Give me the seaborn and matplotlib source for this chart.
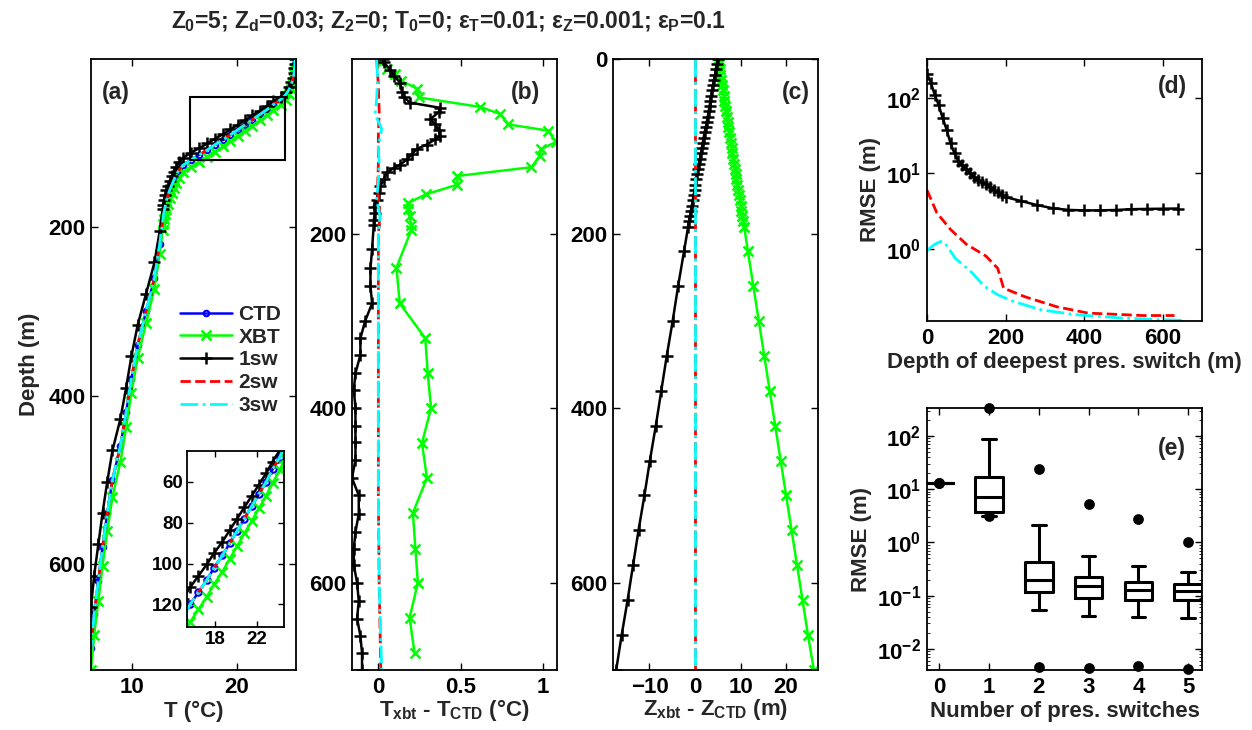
import numpy as np
import pandas as pd
import matplotlib
matplotlib.use("Agg")
import matplotlib.pyplot as plt
from matplotlib.patches import Rectangle
from matplotlib.ticker import FixedLocator, NullLocator, LogLocator, FuncFormatter
import seaborn as sns

# ------------------------------------------------------------------ data
# true (CTD) depth grid of the XBT samples (m)
depth_grid = [0, 6, 12, 18, 24, 30, 36, 42, 48, 54, 60, 66, 72, 78, 84, 90, 96, 102, 108,
              114, 120, 126, 132, 138, 144, 150, 156, 162, 168, 174, 180, 186, 192,
              220, 260, 300, 340, 380, 420, 460, 500, 540, 580, 620, 660, 700]
# CTD temperature (degC)
T_ctd = [25.6, 25.55, 25.5, 25.45, 25.35, 25.2, 25.0, 24.7, 24.2, 23.5, 22.9, 22.2, 21.5,
         20.8, 20.1, 19.4, 18.7, 17.9, 17.2, 16.4, 15.6, 14.9, 14.5, 14.2, 14.0, 13.8, 13.6,
         13.45, 13.3, 13.2, 13.1, 13.0, 12.95,
         12.65, 12.15, 11.35, 10.55, 9.95, 9.45, 8.9, 8.15, 7.65, 7.2, 6.8, 6.4, 6.1]
# XBT depth error Z_xbt - Z_CTD (m), panel (c)
dz_xbt = [5.0, 5.2, 5.4, 5.5, 5.7, 5.9, 6.1, 6.3, 6.4, 6.6, 6.8, 7.0, 7.2, 7.3, 7.5, 7.7,
          7.9, 8.1, 8.2, 8.4, 8.6, 8.8, 9.0, 9.1, 9.3, 9.5, 9.7, 9.9, 10.0, 10.2, 10.4, 10.6,
          10.8, 11.6, 12.8, 14.0, 15.2, 16.4, 17.6, 18.8, 20.0, 21.2, 22.4, 23.6, 24.8, 26.1]
# 1-switch corrected depth error (m), panel (c)
dz_1sw = [5.0, 4.8, 4.6, 4.4, 4.2, 4.0, 3.8, 3.6, 3.4, 3.2, 3.0, 2.8, 2.6, 2.4, 2.1, 1.9,
          1.7, 1.5, 1.3, 1.1, 0.9, 0.7, 0.5, 0.3, 0.1, -0.1, -0.3, -0.5, -0.7, -0.9, -1.1,
          -1.3, -1.5, -2.4, -3.7, -4.9, -6.2, -7.4, -8.6, -9.9, -11.1, -12.4, -13.6, -14.8,
          -16.1, -17.3]
# 1-switch profile depth in panel (a) (m)
depth_1sw_a = [0, 5.6, 11.2, 16.7, 22.3, 27.9, 33.5, 39.1, 44.6, 50.2, 55.8, 61.4, 67.0,
               72.5, 78.1, 83.7, 89.3, 94.9, 100.4, 106.0, 111.6, 117.2, 122.8, 128.3,
               133.9, 139.5, 145.1, 150.7, 156.2, 161.8, 167.4, 173.0, 178.6, 204.6, 241.8,
               279.0, 316.2, 353.4, 390.6, 427.8, 465.0, 502.2, 539.4, 576.6, 613.8, 651.0]
# panel (a) zoom box
zoom_T = [15.5, 24.6]
zoom_z = [45, 120]

# panel (b): T_xbt - T_CTD
depth_b_xbt = [4, 11, 17, 25, 34, 44, 55, 63, 75, 82, 95, 103, 111, 124, 134, 144, 155,
               165, 172, 180, 190, 196, 239, 280, 320, 360, 400, 440, 480, 520, 561, 600,
               640, 681]
dT_b_xbt = [0.02, 0.05, 0.10, 0.14, 0.235, 0.245, 0.62, 0.74, 0.79, 1.03, 1.08, 0.99, 0.98,
            0.93, 0.48, 0.48, 0.29, 0.18, 0.18, 0.19, 0.20, 0.20, 0.11, 0.13, 0.285, 0.30,
            0.32, 0.265, 0.295, 0.21, 0.225, 0.24, 0.19, 0.22]
depth_b_1sw = [0, 4, 13, 19, 27, 38, 44, 50, 56, 61, 69, 75, 81, 88, 92, 98, 103, 109, 115,
               121, 125, 130, 138, 146, 153, 161, 169, 176, 184, 190, 218, 240, 260, 280,
               300, 320, 339, 360, 379, 400, 420, 439, 459, 480, 500, 521, 542, 561, 580,
               600, 621, 641, 661, 681, 700]
dT_b_1sw = [0.03, 0.036, 0.073, 0.093, 0.133, 0.143, 0.154, 0.194, 0.376, 0.366, 0.315,
            0.345, 0.366, 0.376, 0.345, 0.295, 0.234, 0.204, 0.174, 0.133, 0.093, 0.053,
            0.032, 0.012, 0.002, -0.008, -0.028, -0.018, -0.028, -0.028, -0.038, -0.048,
            -0.048, -0.038, -0.08, -0.109, -0.109, -0.139, -0.149, -0.139, -0.139, -0.139,
            -0.139, -0.16, -0.119, -0.119, -0.139, -0.149, -0.149, -0.129, -0.119, -0.129,
            -0.109, -0.099, -0.099]
depth_b_2sw = [0, 30, 60, 90, 120, 150, 180, 200, 300, 400, 500, 600, 700]
dT_b_2sw = [-0.01, 0.0, 0.005, 0.0, 0.0, -0.005, 0.01, 0.0, 0.0, 0.0, 0.0, 0.005, 0.015]
depth_b_3sw = [0, 20, 45, 63, 80, 100, 120, 140, 160, 180, 200, 300, 400, 500, 600, 700]
dT_b_3sw = [-0.01, -0.005, -0.01, -0.02, 0.02, 0.0, 0.005, 0.0, -0.01, 0.01, 0.0, 0.0, 0.0,
            0.0, 0.005, 0.02]

# panel (c): 2sw / 3sw depth errors
depth_c_flat = [0, 700]
dz_2sw = [0.0, 0.0]
dz_3sw = [0.0, 0.0]

# panel (d): RMSE vs depth of deepest switch
sw_depth_1 = [0, 10, 20, 30, 40, 50, 60, 70, 80, 90, 100, 110, 120, 130, 140, 150, 160,
              170, 180, 190, 200, 240, 280, 320, 360, 400, 440, 480, 520, 560, 600, 640]
rmse_1sw = [210, 158, 110, 80, 54, 38, 25, 18.5, 14.6, 12.8, 11.3, 10.0, 9.0, 8.3, 7.7, 7.2,
            6.7, 6.1, 5.6, 5.2, 4.85, 4.3, 3.8, 3.45, 3.28, 3.23, 3.23, 3.27, 3.35, 3.38,
            3.4, 3.42]
sw_depth_2 = [0, 25, 60, 100, 150, 180, 195, 250, 330, 410, 550, 630]
rmse_2sw = [6.0, 3.0, 1.8, 1.15, 0.8, 0.55, 0.3, 0.23, 0.17, 0.14, 0.13, 0.13]
sw_depth_3 = [0, 20, 35, 45, 72, 115, 145, 180, 220, 290, 375, 500, 580, 660]
rmse_3sw = [0.95, 1.15, 1.25, 1.2, 0.75, 0.48, 0.32, 0.245, 0.2, 0.155, 0.134, 0.12, 0.115,
            0.112]

# panel (e): box statistics per number of switches
n_switch = [0, 1, 2, 3, 4, 5]
box_low = [13.3, 3.16, 0.053, 0.042, 0.040, 0.038]
box_q1 = [13.3, 3.65, 0.115, 0.090, 0.084, 0.084]
box_med = [13.3, 7.0, 0.194, 0.154, 0.13, 0.124]
box_q3 = [13.3, 16.6, 0.42, 0.22, 0.18, 0.166]
box_high = [13.3, 87, 2.15, 0.56, 0.355, 0.274]
rmse_min = [13.3, 3.1, 0.0046, 0.0044, 0.0047, 0.0042]
rmse_max = [13.3, 330, 23.7, 5.3, 2.74, 1.0]

# ------------------------------------------------------------------ style
sns.set_style("ticks")
plt.rcParams.update({
    "font.family": ["Liberation Sans", "DejaVu Sans"],
    "font.weight": "bold",
    "axes.labelweight": "bold",
    "font.size": 16,
    "mathtext.fontset": "custom",
    "mathtext.rm": "Liberation Sans:bold",
    "mathtext.it": "Liberation Sans:bold",
    "mathtext.bf": "Liberation Sans:bold",
    "mathtext.sf": "Liberation Sans:bold",
    "axes.linewidth": 1.3,
    "axes.edgecolor": "black",
    "xtick.direction": "in", "ytick.direction": "in",
    "xtick.top": True, "ytick.right": True,
    "xtick.major.size": 5, "ytick.major.size": 5,
    "xtick.minor.size": 2.5, "ytick.minor.size": 2.5,
    "xtick.major.width": 1.0, "ytick.major.width": 1.0,
    "xtick.color": "black", "ytick.color": "black",
    "xtick.labelsize": 16, "ytick.labelsize": 16,
    "axes.labelsize": 16,
    "xtick.major.pad": 5, "ytick.major.pad": 4,
})

W, H = 1252, 730
fig = plt.figure(figsize=(W / 100, H / 100), dpi=100)


def add_ax(l, t, r, b):
    return fig.add_axes([l / W, 1 - b / H, (r - l) / W, (b - t) / H])


axa = add_ax(91, 59, 296, 670)
axb = add_ax(352, 59, 557, 670)
axc = add_ax(613, 59, 818, 670)
axd = add_ax(927, 59, 1202, 321)
axe = add_ax(927, 408, 1202, 670)

LW = 1.8
BLUE, GREEN, BLACK, RED, CYAN = "#0000ff", "#00ff00", "#000000", "#ff0000", "#00ffff"
MS_X, MS_P = 6.5, 8


def line(ax, x, y, **kw):
    sns.lineplot(x=x, y=y, ax=ax, sort=False, estimator=None, legend=False, **kw)


depth_xbt_a = [z + d for z, d in zip(depth_grid, dz_xbt)]


def draw_profiles(ax, ms_scale=1.0, labels=False):
    lab = (lambda s: s) if labels else (lambda s: None)
    line(ax, T_ctd, depth_grid, color=BLUE, lw=LW, marker="o", ms=4 * ms_scale,
         mfc="none", mec=BLUE, mew=1.5, label=lab("CTD"))
    line(ax, T_ctd, depth_xbt_a, color=GREEN, lw=LW, marker="x", ms=MS_X * ms_scale,
         mec=GREEN, mew=1.8, label=lab("XBT"))
    line(ax, T_ctd, depth_1sw_a, color=BLACK, lw=LW, marker="+", ms=MS_P * ms_scale,
         mec=BLACK, mew=1.8, label=lab("1sw"))
    line(ax, T_ctd, depth_grid, color=RED, lw=LW + 0.2, linestyle="--", label=lab("2sw"))
    line(ax, T_ctd, depth_grid, color=CYAN, lw=LW + 0.2, linestyle="-.", label=lab("3sw"))


# ---------------- panel (a)
draw_profiles(axa, labels=True)
axa.add_patch(Rectangle((zoom_T[0], zoom_z[0]), zoom_T[1] - zoom_T[0], zoom_z[1] - zoom_z[0],
                        fill=False, ec="black", lw=1.5, zorder=5))
axa.set_xlim(6.1, 25.65)
axa.set_ylim(726, 0)
axa.xaxis.set_major_locator(FixedLocator([10, 20]))
axa.yaxis.set_major_locator(FixedLocator([200, 400, 600]))
axa.set_xlabel("T (°C)", labelpad=2)
axa.set_ylabel("Depth (m)", labelpad=6)
handles, labels = axa.get_legend_handles_labels()
leg = axa.legend(handles, labels, loc="upper left",
                 bbox_to_anchor=((180 - 91) / 205, (670 - 305) / 611),
                 frameon=False, fontsize=15, handlelength=2.5, handletextpad=0.3,
                 labelspacing=0.18, borderpad=0, borderaxespad=0)

# inset
axi = add_ax(187, 451, 284, 627)
axi.set_zorder(10)
axi.set_facecolor("white")
draw_profiles(axi, ms_scale=1.15)
axi.set_xlim(15.3, 24.6)
axi.set_ylim(131, 45)
axi.xaxis.set_major_locator(FixedLocator([18, 22]))
axi.yaxis.set_major_locator(FixedLocator([60, 80, 100, 120]))
axi.tick_params(labelsize=13.5, length=4, pad=3)

# ---------------- panel (b)
line(axb, dT_b_xbt, depth_b_xbt, color=GREEN, lw=LW, marker="x", ms=MS_X, mec=GREEN, mew=1.8)
line(axb, dT_b_1sw, depth_b_1sw, color=BLACK, lw=LW, marker="+", ms=MS_P, mec=BLACK, mew=1.8)
line(axb, dT_b_2sw, depth_b_2sw, color=RED, lw=LW + 0.2, linestyle="--")
line(axb, dT_b_3sw, depth_b_3sw, color=CYAN, lw=LW + 0.2, linestyle="-.")
axb.set_xlim(-0.16, 1.085)
axb.set_ylim(700, 0)
axb.xaxis.set_major_locator(FixedLocator([0, 0.5, 1]))
axb.set_xticklabels(["0", "0.5", "1"])
axb.yaxis.set_major_locator(FixedLocator([200, 400, 600]))
axb.set_xlabel(r"$T_{xbt}$ - $T_{CTD}$ (°C)", labelpad=-1)

# ---------------- panel (c)
line(axc, dz_xbt, depth_grid, color=GREEN, lw=LW, marker="x", ms=MS_X, mec=GREEN, mew=1.8)
line(axc, dz_1sw, depth_grid, color=BLACK, lw=LW, marker="+", ms=MS_P, mec=BLACK, mew=1.8)
line(axc, dz_2sw, depth_c_flat, color=RED, lw=LW + 0.2, linestyle="--")
line(axc, dz_3sw, depth_c_flat, color=CYAN, lw=LW + 0.2, linestyle="-.")
axc.set_xlim(-18, 27)
axc.set_ylim(700, 0)
axc.xaxis.set_major_locator(FixedLocator([-10, 0, 10, 20]))
axc.yaxis.set_major_locator(FixedLocator([0, 200, 400, 600]))
axc.set_xlabel(r"$Z_{xbt}$ - $Z_{CTD}$ (m)", labelpad=-1)

# ---------------- panel (d)
line(axd, sw_depth_1, rmse_1sw, color=BLACK, lw=LW, marker="+", ms=MS_P + 1, mec=BLACK, mew=1.8)
line(axd, sw_depth_2, rmse_2sw, color=RED, lw=LW + 0.2, linestyle="--")
line(axd, sw_depth_3, rmse_3sw, color=CYAN, lw=LW + 0.2, linestyle="-.")
axd.set_yscale("log")
axd.set_xlim(0, 700)
axd.set_ylim(0.11, 330)
axd.xaxis.set_major_locator(FixedLocator([0, 200, 400, 600]))
axd.yaxis.set_major_locator(FixedLocator([1, 10, 100]))
axd.yaxis.set_minor_locator(NullLocator())
pow_fmt = FuncFormatter(lambda v, p: r"$10^{%d}$" % int(round(np.log10(v))))
axd.yaxis.set_major_formatter(pow_fmt)
axd.set_xlabel("Depth of deepest pres. switch (m)", labelpad=2)
axd.set_ylabel("RMSE (m)", labelpad=4)

# ---------------- panel (e)
rows = []
for i, n in enumerate(n_switch):
    for v in (box_low[i], box_q1[i], box_med[i], box_q3[i], box_high[i]):
        rows.append({"n": n, "rmse": v})
df_box = pd.DataFrame(rows)
sns.boxplot(data=df_box, x="n", y="rmse", ax=axe, log_scale=True, whis=(0, 100),
            fill=False, color="black", linecolor="black", linewidth=2.2, width=0.55,
            showfliers=False)
sns.scatterplot(x=n_switch + n_switch, y=rmse_min + rmse_max, ax=axe, color="black",
                s=60, edgecolor="black", linewidth=0, legend=False, zorder=5, clip_on=False)
axe.set_xlim(-0.25, 5.28)
axe.set_ylim(0.004, 335)
axe.yaxis.set_major_locator(FixedLocator([0.01, 0.1, 1, 10, 100]))
axe.yaxis.set_minor_locator(LogLocator(base=10, subs=np.arange(2, 10) * 1.0, numticks=20))
axe.yaxis.set_major_formatter(pow_fmt)
axe.xaxis.set_major_locator(FixedLocator(n_switch))
axe.set_xticklabels([str(n) for n in n_switch])
axe.set_xlabel("Number of pres. switches", labelpad=2)
axe.set_ylabel("RMSE (m)", labelpad=4)

for ax in (axa, axb, axc, axd, axe, axi):
    for s in ax.spines.values():
        s.set_visible(True)
        s.set_color("black")
        s.set_linewidth(1.3)
    ax.tick_params(which="both", top=True, right=True, direction="in")

# panel tags
for txt, (px, py) in {"(a)": (116, 93), "(b)": (526, 93), "(c)": (796, 93),
                      "(d)": (1172, 87), "(e)": (1172, 449)}.items():
    fig.text(px / W, 1 - py / H, txt, ha="center", va="center", fontsize=16.5,
             fontweight="bold")

fig.text(448 / W, 1 - 22 / H,
         r"$Z_0$=5; $Z_d$=0.03; $Z_2$=0; $T_0$=0; $\varepsilon_T$=0.01; "
         r"$\varepsilon_Z$=0.001; $\varepsilon_P$=0.1",
         ha="center", va="center", fontsize=16.5, fontweight="bold")

fig.savefig("out.png", dpi=100, facecolor="white")
